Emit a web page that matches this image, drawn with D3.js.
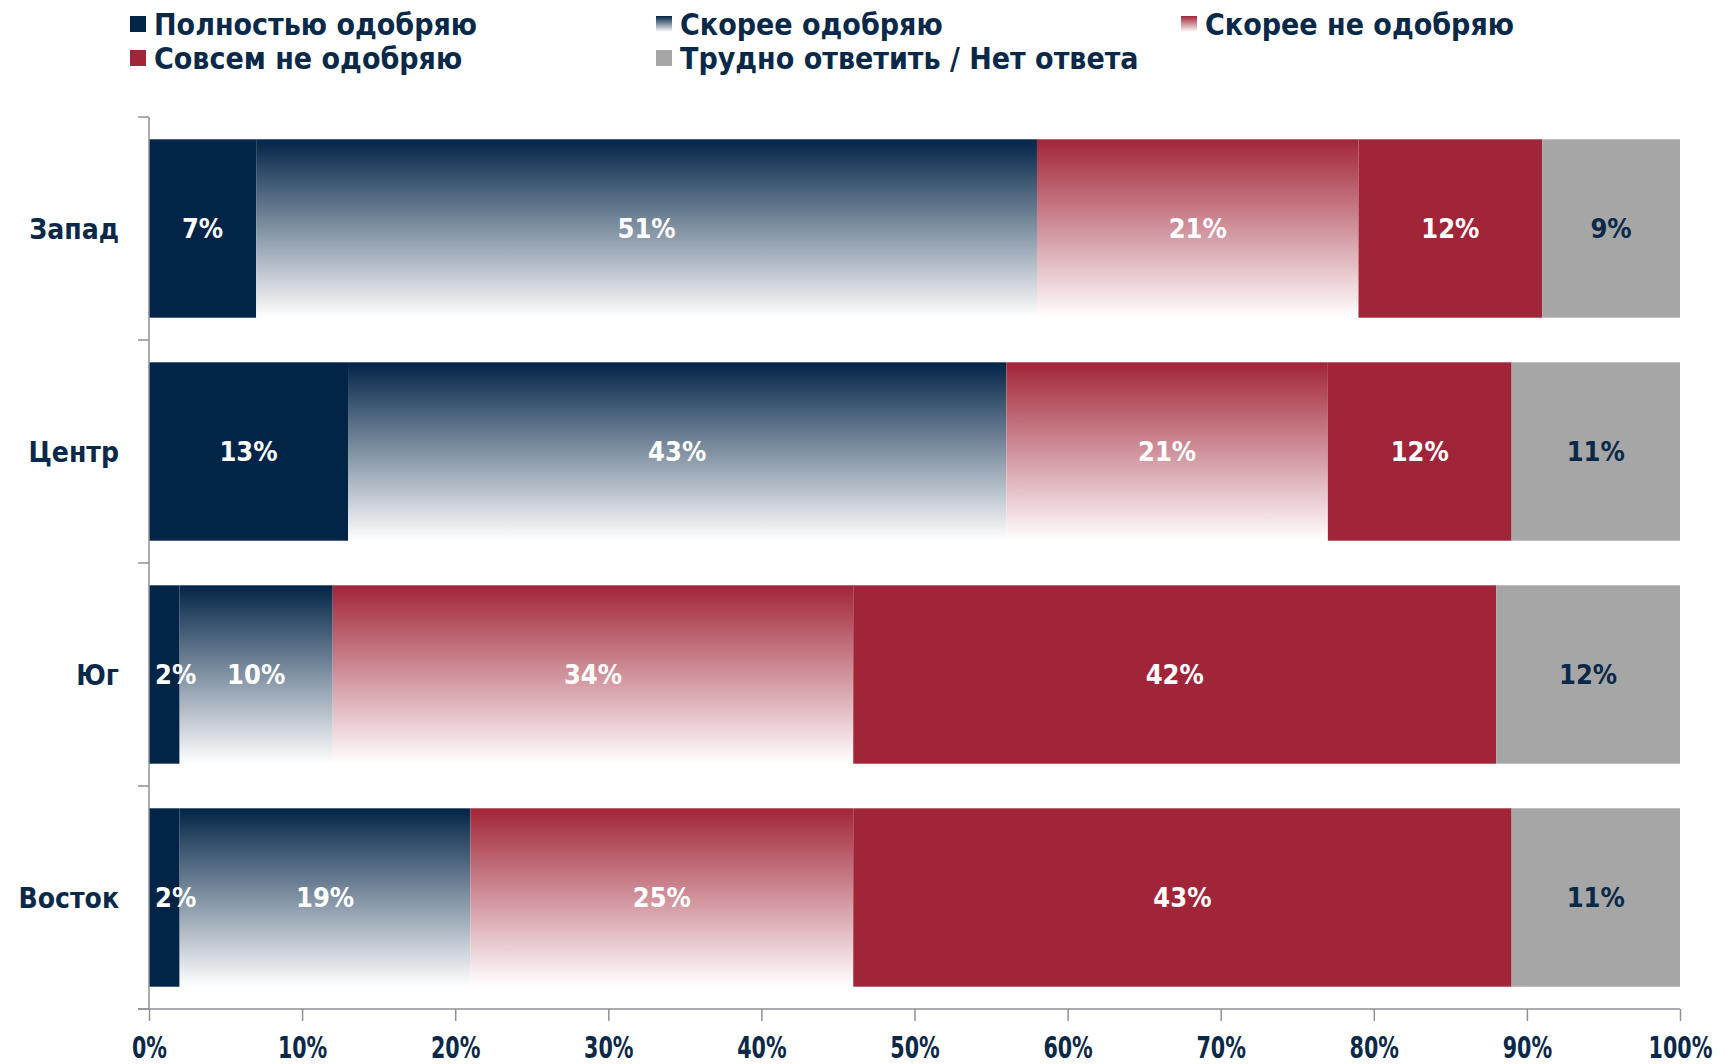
<!DOCTYPE html>
<html>
<head>
<meta charset="utf-8">
<script src="https://cdn.jsdelivr.net/npm/d3@7"></script>
<style>
  html, body { margin: 0; padding: 0; background: #fff; }
  svg { display: block; }
</style>
</head>
<body>
<svg id="chart" width="1725" height="1064"></svg>
<script>
// ---- data ----
const categories = ["Запад", "Центр", "Юг", "Восток"];
const seriesNames = ["Полностью одобряю", "Скорее одобряю", "Скорее не одобряю", "Совсем не одобряю", "Трудно ответить / Нет ответа"];
const fullyApprove   = [7, 13, 2, 2];
const ratherApprove  = [51, 43, 10, 19];
const ratherDisapprove = [21, 21, 34, 25];
const fullyDisapprove  = [12, 12, 42, 43];
const hardToSay        = [9, 11, 12, 11];
const xTicks = [0, 10, 20, 30, 40, 50, 60, 70, 80, 90, 100];

// ---- styles ----
const NAVY = "#022447", RED = "#A12538", GRAY = "#A6A6A6", TEXT = "#0A2948", AXIS = "#8E9196";
const seriesValues = [fullyApprove, ratherApprove, ratherDisapprove, fullyDisapprove, hardToSay];
const fills = ["solid-navy", "grad-navy", "grad-red", "solid-red", "solid-gray"];
const labelColors = ["#fff", "#fff", "#fff", "#fff", TEXT];

const svg = d3.select("#chart");
const defs = svg.append("defs");
function grad(id, c) {
  const g = defs.append("linearGradient").attr("id", id).attr("x1", 0).attr("y1", 0).attr("x2", 0).attr("y2", 1);
  g.append("stop").attr("offset", "0%").attr("stop-color", c);
  g.append("stop").attr("offset", "100%").attr("stop-color", "#ffffff");
}
grad("g-navy", NAVY);
grad("g-red", RED);
const fillMap = {"solid-navy": NAVY, "grad-navy": "url(#g-navy)", "grad-red": "url(#g-red)", "solid-red": RED, "solid-gray": GRAY};

const x = d3.scaleLinear().domain([0, 100]).range([149, 1680]);
const y = d3.scaleBand().domain(categories).range([117, 1009]).paddingInner(0.2).paddingOuter(0.1);

// stack
const rows = categories.map((c, i) => {
  const o = {cat: c};
  seriesNames.forEach((s, k) => o[s] = seriesValues[k][i]);
  return o;
});
const stacked = d3.stack().keys(seriesNames)(rows);

const layers = svg.append("g").selectAll("g").data(stacked).join("g")
  .attr("fill", (d, k) => fillMap[fills[k]]);
layers.selectAll("rect").data(d => d).join("rect")
  .attr("x", d => x(d[0]))
  .attr("y", d => y(d.data.cat))
  .attr("width", d => x(d[1]) - x(d[0]))
  .attr("height", y.bandwidth());

// labels
const lab = svg.append("g").attr("font-family", "'DejaVu Sans Condensed', 'DejaVu Sans', sans-serif")
  .attr("font-weight", "bold").attr("font-size", 27);
stacked.forEach((layer, k) => {
  lab.selectAll(null).data(layer).join("text")
    .attr("fill", labelColors[k])
    .attr("x", d => (x(d[1]) - x(d[0]) < 40) ? x(d[0]) + 6 : (x(d[0]) + x(d[1])) / 2)
    .attr("text-anchor", d => (x(d[1]) - x(d[0]) < 40) ? "start" : "middle")
    .attr("y", d => y(d.data.cat) + y.bandwidth() / 2)
    .attr("dy", "0.36em")
    .text(d => (d[1] - d[0]) + "%");
});

// y axis
const yAxisG = svg.append("g");
yAxisG.append("line").attr("x1", x(0)).attr("x2", x(0)).attr("y1", y.range()[0]).attr("y2", y.range()[1])
  .attr("stroke", AXIS).attr("stroke-width", 1.5);
const bounds = categories.map(c => y(c) - y.step() * y.paddingInner() / 2);
bounds[0] = y.range()[0];
bounds.push(y.range()[1]);
yAxisG.selectAll("line.t").data(bounds).join("line").attr("class", "t")
  .attr("x1", x(0) - 11).attr("x2", x(0)).attr("y1", d => d).attr("y2", d => d)
  .attr("stroke", AXIS).attr("stroke-width", 1.5);
yAxisG.selectAll("text").data(categories).join("text")
  .attr("x", 119).attr("y", d => y(d) + y.bandwidth() / 2).attr("dy", "0.36em")
  .attr("text-anchor", "end").attr("fill", TEXT)
  .attr("font-family", "'DejaVu Sans Condensed', 'DejaVu Sans', sans-serif")
  .attr("font-weight", "bold").attr("font-size", 28)
  .text(d => d);

// x axis
const xAxis = d3.axisBottom(x).tickValues(xTicks).tickFormat(d => d + "%").tickSize(12).tickPadding(15);
const xg = svg.append("g").attr("transform", `translate(0,${y.range()[1]})`).call(xAxis);
xg.select(".domain").attr("stroke", AXIS).attr("stroke-width", 1.5).attr("d", `M${x(0) - 11},0H${x(100)}`);
xg.selectAll(".tick line").attr("stroke", AXIS).attr("stroke-width", 1.5);
xg.selectAll(".tick text").attr("fill", TEXT)
  .attr("font-family", "'DejaVu Sans Condensed', 'DejaVu Sans', sans-serif")
  .attr("font-weight", "bold").attr("font-size", 31)
  .each(function() {
    const w = this.getComputedTextLength();
    d3.select(this).attr("textLength", w * 0.74).attr("lengthAdjust", "spacingAndGlyphs");
  });

// legend
const legendPos = [[130, 35], [656, 35], [1181, 35], [130, 69], [656, 69]];
const lg = svg.append("g");
seriesNames.forEach((s, k) => {
  const [lx, ly] = legendPos[k];
  lg.append("rect").attr("x", lx).attr("y", ly - 19).attr("width", 16).attr("height", 16)
    .attr("fill", fillMap[fills[k]]);
  lg.append("text").attr("x", lx + 24).attr("y", ly).attr("fill", TEXT)
    .attr("font-family", "'DejaVu Sans Condensed', 'DejaVu Sans', sans-serif")
    .attr("font-weight", "bold").attr("font-size", 30).text(s);
});
</script>
</body>
</html>
